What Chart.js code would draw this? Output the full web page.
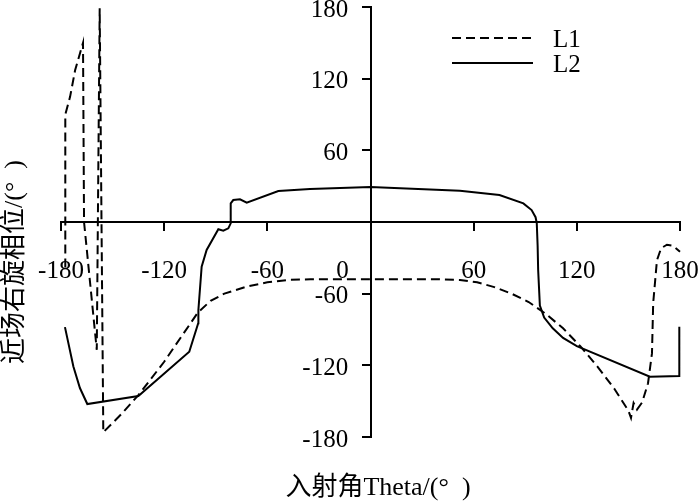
<!DOCTYPE html>
<html>
<head>
<meta charset="utf-8">
<script src="https://cdn.jsdelivr.net/npm/chart.js@4"></script>
<style>
  html, body { margin: 0; padding: 0; background: #fff; }
</style>
</head>
<body>
<canvas id="phaseChart" width="700" height="501"></canvas>
<script>
// values (degrees)
const l1Theta = [-177.5, -177.5, -174.7, -171.8, -167.2, -166.6, -159.2, -157.5, -155.4, -145,
                 -135, -120, -100.5, -93, -85, -72, -60, -48, -35, 0,
                 40, 52, 62, 72, 82, 92, 102, 112, 122, 132,
                 142, 150, 151.5, 153, 155, 158, 161.4, 163.7, 164.4, 166.6,
                 169, 172.4, 176, 180];
const l1Phase = [-38, 90, 105, 127, 150, 0, -107, 179, -176, -161,
                 -145, -117, -76, -66, -60, -54, -50.5, -48.5, -48, -48,
                 -48, -48.5, -50.5, -54.5, -60, -67, -77, -89, -104, -121,
                 -140, -158, -164, -151.5, -157, -151, -135, -110, -68, -32,
                 -22, -19, -20, -25];

const l2Theta = [-177.7, -172.8, -169, -164.7, -135, -105.4, -100.2, -100.1, -98.2, -95.3,
                 -88.5, -85.6, -82.7, -81.3, -81.3, -79.8, -75.9, -72, -53.6, -35.2,
                 0, 52, 75, 88.9, 93.7, 96, 96.7, 97.2, 97.5, 98.5,
                 101, 106, 112, 120, 162.5, 179.6, 179.6];
const l2Phase = [-88, -121, -139, -152.4, -145.7, -108.6, -84.8, -73.7, -37.4, -23.4,
                 -6.1, -7.3, -5.3, -1.1, 15.6, 18.4, 19, 16.2, 26, 27.6,
                 29.3, 26.2, 22.6, 15.6, 10, 4, -1, -20, -40, -70,
                 -80, -89, -97, -104, -129.5, -129, -87.6];

const seriesNames = ['L1', 'L2'];
const tickValues = [-180, -120, -60, 0, 60, 120, 180];
const xTitle = '入射角Theta/(°  )';
const yTitle = '近场右旋相位/(°  )';

const serif = '"Liberation Serif", "Times New Roman", "Noto Sans CJK SC", serif';
Chart.defaults.font.family = serif;
Chart.defaults.font.size = 25;
Chart.defaults.color = '#000';

function toPoints(xs, ys) {
    return xs.map((x, i) => ({ x: x, y: ys[i] }));
}

// axis titles and the little legend in the top right corner
const extras = {
    id: 'extras',
    afterDraw(chart) {
        const ctx = chart.ctx;
        ctx.save();
        ctx.fillStyle = '#000';
        ctx.font = '26px ' + serif;
        ctx.textAlign = 'center';
        ctx.textBaseline = 'middle';
        ctx.fillText(xTitle, 378, 488);
        ctx.save();
        ctx.translate(15, 262);
        ctx.rotate(-Math.PI / 2);
        ctx.fillText(yTitle, 0, 0);
        ctx.restore();

        ctx.font = '25px ' + serif;
        ctx.textAlign = 'left';
        chart.data.datasets.forEach((ds, i) => {
            const y = 38 + i * 25;
            ctx.beginPath();
            ctx.setLineDash(ds.borderDash || []);
            ctx.lineWidth = ds.borderWidth;
            ctx.strokeStyle = ds.borderColor;
            ctx.moveTo(452, y);
            ctx.lineTo(533, y);
            ctx.stroke();
            ctx.fillText(ds.label, 553, y + 2);
        });
        ctx.restore();
    }
};

const ticksFromList = s => { s.ticks = tickValues.map(v => ({ value: v })); };
const noPad = s => { s.paddingLeft = 0; s.paddingRight = 0; s.paddingTop = 0; s.paddingBottom = 0; };

const ctx = document.getElementById('phaseChart').getContext('2d');
const phaseChart = new Chart(ctx, {
    type: 'line',
    data: {
        datasets: [{
            label: seriesNames[0],
            data: toPoints(l1Theta, l1Phase),
            borderColor: '#000',
            borderWidth: 2,
            borderDash: [9, 5],
            pointRadius: 0,
            fill: false,
            clip: false
        }, {
            label: seriesNames[1],
            data: toPoints(l2Theta, l2Phase),
            borderColor: '#000',
            borderWidth: 2,
            pointRadius: 0,
            fill: false,
            clip: false
        }]
    },
    options: {
        responsive: false,
        animation: false,
        devicePixelRatio: 1,
        layout: { padding: { left: 61, right: 20, top: 7, bottom: 64 } },
        plugins: {
            legend: { display: false },
            tooltip: { enabled: false }
        },
        scales: {
            x: {
                type: 'linear', min: -180, max: 180,
                position: { y: 0 },
                afterBuildTicks: ticksFromList,
                afterFit: noPad,
                border: { display: true, color: '#000', width: 2 },
                grid: { drawOnChartArea: false, color: '#000', lineWidth: 2, tickLength: 8 },
                ticks: {
                    autoSkip: false, maxRotation: 0, padding: 26,
                    // the 0 label sits left of the y axis in the original
                    callback: v => v === 0 ? '0' + ' '.repeat(9) : String(v)
                }
            },
            // axis line and tick marks crossing at theta = 0
            y: {
                type: 'linear', min: -180, max: 180,
                position: { x: 0 },
                afterBuildTicks: ticksFromList,
                afterFit: noPad,
                border: { display: true, color: '#000', width: 2 },
                grid: { drawOnChartArea: false, color: '#000', lineWidth: 2, tickLength: 8 },
                ticks: { display: false }
            },
            // labels of the y axis, set a bit left of the axis line
            yLabels: {
                type: 'linear', min: -177.5, max: 182.5,
                axis: 'y',
                position: { x: -13 },
                afterBuildTicks: ticksFromList,
                afterFit: noPad,
                border: { display: false },
                grid: { display: false },
                ticks: { autoSkip: false, callback: v => v === 0 ? '' : String(v) }
            }
        }
    },
    plugins: [extras]
});
</script>
</body>
</html>
